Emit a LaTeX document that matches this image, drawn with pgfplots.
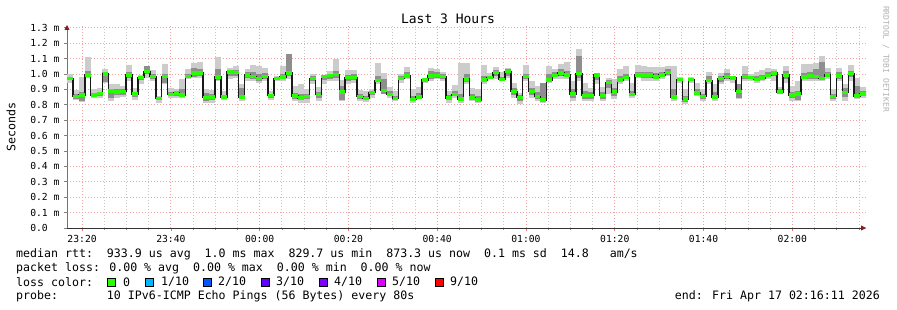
\documentclass[border=0pt]{standalone}
\usepackage{pgfplots}
\pgfplotsset{compat=1.18}
\usepackage{pgfplotstable}
\usetikzlibrary{arrows.meta}
\usepackage{fontspec}
\setmainfont{DejaVu Sans Mono}
\definecolor{loss0}{HTML}{26FF00}
\definecolor{loss1}{HTML}{00B8FF}
\definecolor{loss2}{HTML}{0059FF}
\definecolor{loss3}{HTML}{5E00FF}
\definecolor{loss4}{HTML}{7E00FF}
\definecolor{loss5}{HTML}{DD00FF}
\definecolor{loss9}{HTML}{FF0000}
\definecolor{smokelight}{HTML}{CCCCCC}
\definecolor{smokemid}{HTML}{8E8E8E}
\definecolor{mgrid}{HTML}{F0A0A0}
\definecolor{ngrid}{HTML}{C8C8C8}
\definecolor{arrowred}{HTML}{8B1A1A}

% one row per 80 s step: median, min..max (light smoke), inner band (dark smoke)
\pgfplotstableread{
med lo hi mlo mhi
0.972 0.944 0.998 0.958 0.980
0.853 0.829 0.894 0.836 0.870
0.864 0.820 0.980 0.826 0.880
0.994 0.976 1.110 0.978 1.020
0.862 0.846 0.900 0.852 0.875
0.872 0.846 0.907 0.858 0.885
1.000 0.944 1.035 0.950 1.010
0.890 0.825 0.933 0.846 0.900
0.883 0.846 0.933 0.862 0.900
0.887 0.850 0.922 0.866 0.900
0.993 0.955 1.056 0.972 1.010
0.870 0.829 0.911 0.850 0.885
0.976 0.937 0.994 0.958 0.985
1.015 0.976 1.052 0.998 1.050
0.985 0.955 1.028 0.970 1.000
0.840 0.814 0.857 0.828 0.848
0.983 0.933 1.063 0.940 1.000
0.868 0.846 0.907 0.856 0.880
0.877 0.846 0.900 0.860 0.885
0.864 0.846 0.965 0.852 0.900
0.985 0.965 1.030 0.975 1.000
1.006 0.972 1.074 0.980 1.040
1.006 0.976 1.080 0.985 1.035
0.846 0.814 0.900 0.825 0.875
0.850 0.814 0.894 0.830 0.870
0.980 0.955 1.110 0.960 1.030
0.850 0.829 0.890 0.838 0.865
1.013 0.965 1.040 0.985 1.025
1.009 0.976 1.052 0.990 1.025
0.850 0.825 0.937 0.840 0.910
0.994 0.955 1.030 0.975 1.010
0.985 0.955 1.056 0.968 1.010
0.970 0.944 1.052 0.955 1.000
0.983 0.955 1.037 0.968 1.005
0.860 0.829 0.890 0.845 0.870
0.970 0.955 0.987 0.962 0.978
0.980 0.955 1.052 0.965 1.000
1.006 0.965 1.132 0.985 1.130
0.857 0.825 0.922 0.840 0.875
0.845 0.814 0.937 0.830 0.870
0.855 0.814 0.900 0.835 0.870
0.972 0.937 1.002 0.955 0.985
0.866 0.825 0.915 0.845 0.885
0.983 0.937 0.994 0.960 0.990
0.990 0.955 1.020 0.970 1.000
0.998 0.955 1.095 0.975 1.020
0.883 0.825 0.959 0.830 0.920
0.976 0.937 1.024 0.955 0.995
0.978 0.944 1.028 0.960 1.000
0.853 0.825 0.894 0.838 0.870
0.842 0.820 0.890 0.830 0.860
0.879 0.846 0.900 0.862 0.890
0.959 0.933 1.074 0.945 0.990
0.894 0.868 1.009 0.870 0.970
0.868 0.846 0.915 0.855 0.890
0.840 0.825 0.890 0.832 0.860
0.972 0.944 1.002 0.958 0.985
0.987 0.965 1.045 0.975 1.015
0.833 0.814 0.900 0.822 0.860
0.850 0.836 0.915 0.842 0.875
0.961 0.944 0.976 0.952 0.968
0.987 0.955 1.037 0.970 1.020
0.990 0.965 1.030 0.977 1.010
0.985 0.955 1.013 0.970 1.000
0.845 0.814 0.890 0.830 0.865
0.868 0.846 0.928 0.855 0.890
0.836 0.814 1.074 0.825 0.870
0.968 0.933 1.074 0.950 1.000
0.845 0.825 0.911 0.835 0.870
0.830 0.814 0.900 0.820 0.855
0.961 0.933 1.058 0.947 0.990
0.976 0.965 1.009 0.970 0.990
1.010 0.965 1.045 0.990 1.025
0.965 0.955 1.015 0.960 0.980
1.017 0.976 1.037 0.990 1.030
0.887 0.846 0.944 0.865 0.910
0.846 0.808 0.879 0.825 0.862
0.985 0.955 1.058 0.970 1.000
0.885 0.846 0.952 0.865 0.910
0.853 0.825 0.922 0.838 0.880
0.830 0.814 0.944 0.822 0.940
0.961 0.944 1.052 0.952 1.000
0.991 0.965 1.030 0.978 1.010
1.006 0.965 1.067 0.985 1.030
0.994 0.965 1.080 0.978 1.020
0.870 0.825 0.952 0.845 0.900
1.002 0.955 1.160 0.976 1.117
0.861 0.825 0.944 0.840 0.890
0.861 0.825 0.911 0.840 0.880
0.994 0.933 1.002 0.960 1.000
0.859 0.825 0.915 0.840 0.880
0.946 0.868 0.972 0.910 0.960
0.883 0.836 0.965 0.860 0.910
0.961 0.933 1.030 0.945 0.990
0.976 0.955 1.052 0.965 1.000
0.866 0.846 0.944 0.855 0.890
0.994 0.976 1.058 0.985 1.015
0.994 0.955 1.052 0.975 1.015
0.994 0.955 1.045 0.975 1.015
0.980 0.955 1.045 0.968 1.005
0.994 0.965 1.045 0.978 1.015
1.009 0.987 1.052 0.995 1.030
0.850 0.825 1.052 0.835 0.900
0.963 0.944 0.980 0.952 0.972
0.836 0.803 0.900 0.820 0.860
0.963 0.944 0.980 0.952 0.972
0.877 0.857 0.944 0.865 0.900
0.853 0.825 0.900 0.838 0.870
0.959 0.933 1.015 0.945 0.985
0.850 0.825 0.933 0.835 0.880
0.970 0.933 1.009 0.950 0.990
0.985 0.955 1.035 0.970 1.005
0.974 0.944 0.987 0.960 0.982
0.887 0.836 0.933 0.846 0.933
0.983 0.955 1.052 0.970 1.000
0.978 0.955 0.998 0.967 0.990
0.963 0.944 1.015 0.955 0.985
0.974 0.955 1.024 0.965 0.995
0.991 0.965 1.037 0.978 1.010
1.006 0.955 1.032 0.985 1.020
0.883 0.868 0.915 0.875 0.900
0.994 0.944 1.052 0.970 1.020
0.864 0.825 0.922 0.845 0.885
0.870 0.825 0.952 0.830 0.890
0.980 0.955 1.063 0.967 1.005
0.987 0.955 1.067 0.970 1.010
0.985 0.955 1.074 0.967 1.035
0.972 0.955 1.117 0.960 1.075
0.994 0.965 1.037 0.980 1.010
0.853 0.825 0.900 0.838 0.870
0.987 0.955 1.037 0.970 1.015
0.881 0.825 0.933 0.850 0.910
1.002 0.955 1.058 0.980 1.020
0.857 0.836 0.976 0.846 0.920
0.870 0.846 0.915 0.857 0.890
0.870 0.846 0.915 0.857 0.890
}\smoke

\newcommand{\lf}{\fontsize{11.6}{12}\selectfont}

\begin{document}
\begin{tikzpicture}
\useasboundingbox (0pt,0pt) rectangle (897pt,310pt);
\begin{axis}[
  at={(67pt,82pt)}, anchor=south west,
  scale only axis, width=799pt, height=203pt,
  xmin=0, xmax=135, ymin=0, ymax=1.318,
  every axis plot post/.append style={mark=none},
  axis x line*=bottom, axis y line*=left,
  x axis line style={black!80, line width=0.8pt, -{Triangle[length=5pt,width=5pt,color=arrowred]}},
  y axis line style={black!55, line width=0.8pt, -{Triangle[length=5pt,width=5pt,color=arrowred]}},
  xtick={2.55,17.55,32.55,47.55,62.55,77.55,92.55,107.55,122.55},
  xticklabels={23:20,23:40,00:00,00:20,00:40,01:00,01:20,01:40,02:00},
  minor xtick={6.3,10.05,13.8,21.3,25.05,28.8,36.3,40.05,43.8,51.3,55.05,58.8,66.3,70.05,73.8,81.3,85.05,88.8,96.3,100.05,103.8,111.3,115.05,118.8,126.3,130.05,133.8},
  ytick={0,0.1,0.2,0.3,0.4,0.5,0.6,0.7,0.8,0.9,1.0,1.1,1.2,1.3},
  yticklabels={0.0\phantom{~m},0.1 m,0.2 m,0.3 m,0.4 m,0.5 m,0.6 m,0.7 m,0.8 m,0.9 m,1.0 m,1.1 m,1.2 m,1.3 m},
  ticklabel style={font=\fontsize{9.7}{10}\selectfont, text=black},
  tick align=outside,
  major tick length=3pt, minor tick length=2pt,
  xtick style={color=red!60, line width=0.6pt},
  ytick style={color=black!50, line width=0.6pt},
  minor tick style={color=black!30},
  grid=both,
  major grid style={mgrid, line width=0.8pt, dash pattern=on 1pt off 2pt},
  minor grid style={ngrid, line width=0.8pt, dash pattern=on 1pt off 2pt},
  xticklabel style={yshift=-1pt},
  yticklabel style={xshift=-1pt},
  clip=true,
]
% light smoke: min..max of each step, drawn as a bar one step wide
\addplot[draw=none,
  error bars/.cd, y dir=both, y explicit, error mark=none,
  error bar style={draw=smokelight, line width=6pt, line cap=butt}]
  table[x expr=\coordindex+0.5, y=med,
        y error plus expr=\thisrow{hi}-\thisrow{med},
        y error minus expr=\thisrow{med}-\thisrow{lo}] {\smoke};
% darker smoke: inner band
\addplot[draw=none,
  error bars/.cd, y dir=both, y explicit, error mark=none,
  error bar style={draw=smokemid, line width=6pt, line cap=butt}]
  table[x expr=\coordindex+0.5, y=med,
        y error plus expr=\thisrow{mhi}-\thisrow{med},
        y error minus expr=\thisrow{med}-\thisrow{mlo}] {\smoke};
\addplot[const plot, black!90, line width=1.5pt] table[x expr=\coordindex, y=med] {\smoke};
\addplot[jump mark left, loss0, line width=3.5pt] table[x expr=\coordindex, y=med] {\smoke};
\end{axis}

\node[font=\fontsize{13}{14}\selectfont] at (448pt,291pt) {Last 3 Hours};
\node[rotate=90, font=\lf] at (11pt,183pt) {Seconds};
\node[rotate=-90, font=\fontsize{8}{9}\selectfont, text=black!30] at (886pt,251pt) {RRDTOOL / TOBI OETIKER};

\node[anchor=west, inner sep=0pt, font=\lf] at (16pt,56pt) {median rtt:~~933.9 us avg~~1.0 ms max~~829.7 us min~~873.3 us now~~0.1 ms sd~~14.8~~~am/s};
\node[anchor=west, inner sep=0pt, font=\lf] at (16pt,42pt) {packet loss: 0.00 \% avg~~0.00 \% max~~0.00 \% min~~0.00 \% now};
\node[anchor=west, inner sep=0pt, font=\lf] at (16pt,28pt) {loss color:};
\node[anchor=west, inner sep=0pt, font=\lf] at (16pt,14pt) {probe:~~~~~~~10 IPv6-ICMP Echo Pings (56 Bytes) every 80s};
\node[anchor=east, inner sep=0pt, font=\lf] at (880pt,14pt) {end: Fri Apr 17 02:16:11 2026};

\foreach \c/\xs/\xt/\lab in {loss0/111.5/123/0, loss1/149.5/161/1\slash 10, loss2/207.5/218/2\slash 10, loss3/265/276/3\slash 10, loss4/323/334/4\slash 10, loss5/381/392/5\slash 10, loss9/439/450/9\slash 10}{
  \draw[fill=\c, draw=black, line width=0.6pt] (\xs pt-4pt,24pt) rectangle (\xs pt+4pt,32pt);
  \node[anchor=west, inner sep=0pt, font=\lf] at (\xt pt,28pt) {\lab};
}
\end{tikzpicture}
\end{document}
